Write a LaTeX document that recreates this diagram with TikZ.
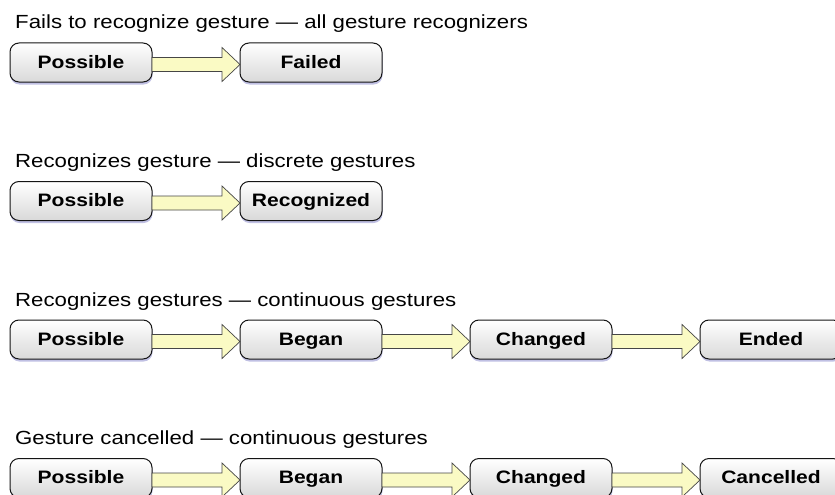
\documentclass[tikz,border=0pt]{standalone}
\usepackage{fontspec}
\setmainfont{Liberation Sans}[FakeStretch=1.17]
\usetikzlibrary{positioning}
\usetikzlibrary{shadows}
\definecolor{stateline}{RGB}{20,20,20}
\definecolor{stateshade}{RGB}{130,130,200}
\definecolor{flowfill}{RGB}{250,250,196}
\definecolor{flowline}{RGB}{70,70,70}
\tikzstyle{every state} = []
\tikzstyle{state} = [draw=stateline, line width=1pt, rounded corners=9pt,
    top color=white, bottom color=black!15, minimum width=142pt,
    minimum height=39pt, inner sep=0pt, outer sep=0pt,
    text height=13pt, text depth=1.5pt,
    font=\fontsize{18}{20}\selectfont\bfseries,
    drop shadow={shadow xshift=0.5pt, shadow yshift=-2.5pt, fill=stateshade},
    every state]
\tikzstyle{flow} = [draw=flowline, line width=0.7pt, fill=flowfill, line join=miter]
\tikzstyle{caption} = [anchor=base west, inner sep=0pt, font=\fontsize{19}{21}\selectfont]
% block arrow from one state to the next
\newcommand{\flowarrow}[2]{
    \draw[flow] ([yshift=5pt]#1.east) -- ([xshift=-18pt,yshift=5pt]#2.west)
        -- ([xshift=-18pt,yshift=15pt]#2.west) -- ([yshift=-2pt]#2.west)
        -- ([xshift=-18pt,yshift=-19pt]#2.west) -- ([xshift=-18pt,yshift=-9pt]#2.west)
        -- ([yshift=-9pt]#1.east) -- cycle;
}

\begin{document}
\begin{tikzpicture}[x=1pt, y=1pt, node distance=88pt]
    \useasboundingbox (0,0) rectangle (835,-495);
    \clip (0,0) rectangle (835,-495);

    % all recognizers
    \node[caption] (fails) at (15,-29) {Fails to recognize gesture — all gesture recognizers};
    \node[state] (possibleA) at (81,-62.5) {Possible};
    \node[state, right=of possibleA] (failed) {Failed};
    \flowarrow{possibleA}{failed}

    % discrete
    \node[caption] (discrete) at (15,-167.5) {Recognizes gesture — discrete gestures};
    \node[state] (possibleB) at (81,-201) {Possible};
    \node[state, right=of possibleB] (recognized) {Recognized};
    \flowarrow{possibleB}{recognized}

    % continuous
    \node[caption] (continuous) at (15,-306) {Recognizes gestures — continuous gestures};
    \node[state] (possibleC) at (81,-339.5) {Possible};
    \node[state, right=of possibleC] (beganC) {Began};
    \node[state, right=of beganC] (changedC) {Changed};
    \node[state, right=of changedC] (ended) {Ended};
    \flowarrow{possibleC}{beganC}
    \flowarrow{beganC}{changedC}
    \flowarrow{changedC}{ended}

    % cancelled
    \node[caption] (cancelled) at (15,-444.5) {Gesture cancelled — continuous gestures};
    \node[state] (possibleD) at (81,-478) {Possible};
    \node[state, right=of possibleD] (beganD) {Began};
    \node[state, right=of beganD] (changedD) {Changed};
    \node[state, right=of changedD] (cancel) {Cancelled};
    \flowarrow{possibleD}{beganD}
    \flowarrow{beganD}{changedD}
    \flowarrow{changedD}{cancel}
\end{tikzpicture}
\end{document}
